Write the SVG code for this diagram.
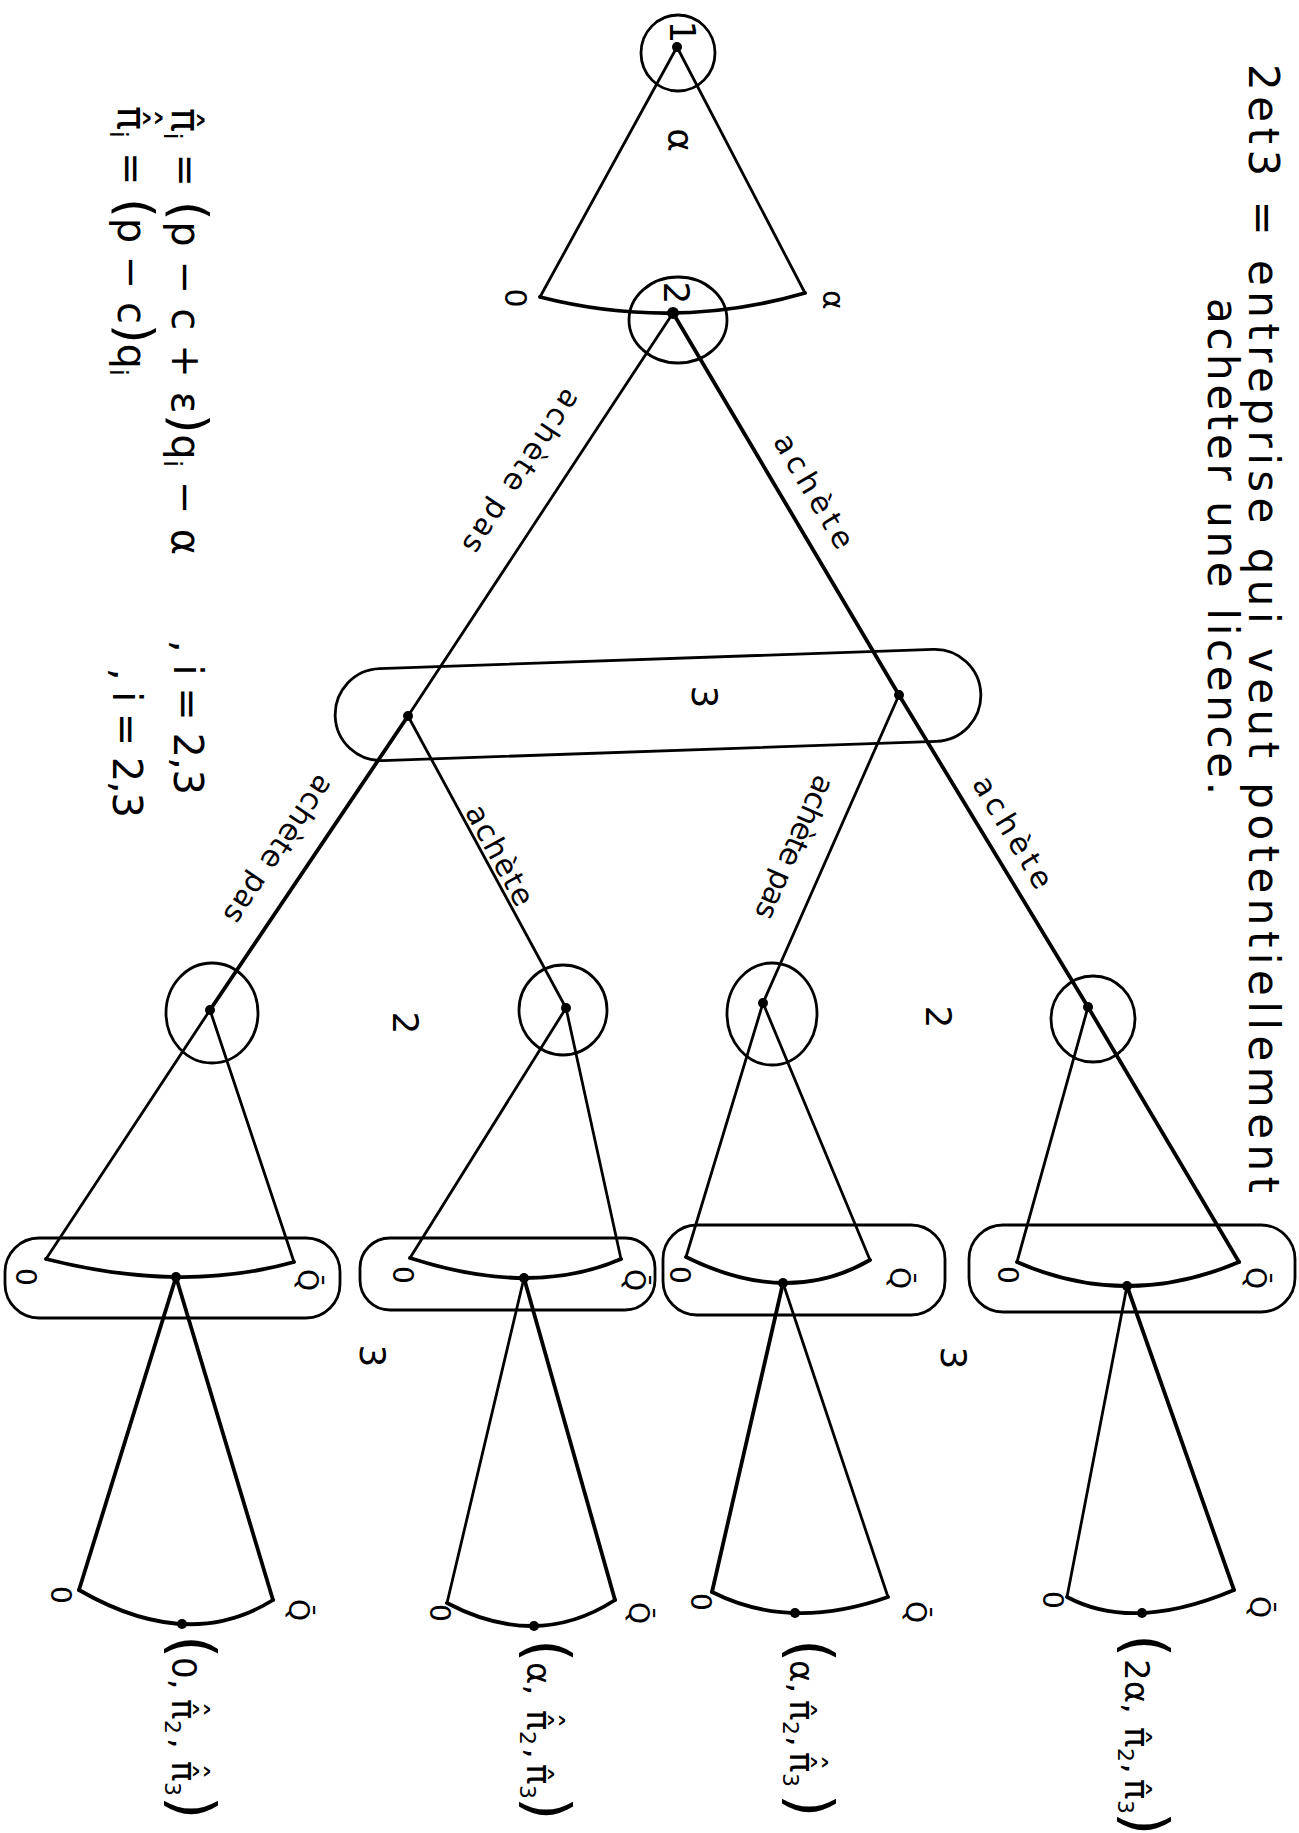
<svg xmlns="http://www.w3.org/2000/svg" width="1299" height="1833" viewBox="0 0 1299 1833">
<style>
.e{stroke:#000;stroke-width:2.8;fill:none;stroke-linecap:round;stroke-linejoin:round}
.b{stroke-width:3.8}
.o{stroke:#000;stroke-width:2.8;fill:none}
.d{fill:#000}
text{font-family:"DejaVu Sans","Liberation Sans",sans-serif;fill:#000}
.c{text-anchor:middle;dominant-baseline:central}
.lb{font-size:30px}
.s{font-size:28px}
.m{font-size:36px}
.h{font-size:42px}
.f{font-size:40px}
.p{font-size:34px}
.bp{font-size:60px}
.fp{font-size:50px}
.sb{font-size:22px}
.si{font-size:24px}
</style>
<rect width="1299" height="1833" fill="#fff"/>

<g id="connectors">
  <line class="e" x1="677" y1="47" x2="540" y2="297"/>
  <line class="e" x1="677" y1="47" x2="805" y2="293"/>
  <path class="e b" d="M540,297 Q673.5,331 805,293"/>
  <line class="e" x1="673" y1="313" x2="408" y2="716"/>
  <line class="e b" x1="673" y1="313" x2="899" y2="695"/>
  <line class="e b" x1="408" y1="716" x2="210" y2="1010"/>
  <line class="e" x1="408" y1="716" x2="566" y2="1008"/>
  <line class="e" x1="899" y1="695" x2="763" y2="1003"/>
  <line class="e b" x1="899" y1="695" x2="1088" y2="1007"/>
  <line class="e" x1="210" y1="1010" x2="46" y2="1259"/>
  <line class="e" x1="210" y1="1010" x2="294" y2="1262"/>
  <line class="e" x1="566" y1="1008" x2="410" y2="1258"/>
  <line class="e" x1="566" y1="1008" x2="621" y2="1259"/>
  <line class="e" x1="763" y1="1003" x2="686" y2="1257"/>
  <line class="e" x1="763" y1="1003" x2="870" y2="1260"/>
  <line class="e" x1="1088" y1="1007" x2="1017" y2="1262"/>
  <line class="e b" x1="1088" y1="1007" x2="1239" y2="1262"/>
  <path class="e b" d="M46,1259 Q182,1293.5 294,1262"/>
  <path class="e b" d="M410,1258 Q532.5,1297.5 621,1259"/>
  <path class="e b" d="M686,1257 Q788,1307.5 870,1260"/>
  <path class="e b" d="M1017,1262 Q1126,1310 1239,1262"/>
  <line class="e b" x1="176" y1="1277" x2="79" y2="1590"/>
  <line class="e b" x1="176" y1="1277" x2="273" y2="1600"/>
  <line class="e" x1="524" y1="1278" x2="447" y2="1603"/>
  <line class="e b" x1="524" y1="1278" x2="615" y2="1600"/>
  <line class="e b" x1="783" y1="1283" x2="712" y2="1592"/>
  <line class="e" x1="783" y1="1283" x2="888" y2="1597"/>
  <line class="e" x1="1127" y1="1286" x2="1067" y2="1597"/>
  <line class="e b" x1="1127" y1="1286" x2="1234" y2="1590"/>
  <path class="e b" d="M79,1590 Q188,1653 273,1600"/>
  <path class="e b" d="M447,1603 Q537,1650.5 615,1600"/>
  <path class="e b" d="M712,1592 Q790,1631.5 888,1597"/>
  <path class="e b" d="M1067,1597 Q1133.5,1632.5 1234,1590"/>
  <text class="c lb" transform="translate(522,472) rotate(123.3)" textLength="190" lengthAdjust="spacing">achète pas</text>
  <text class="c lb" transform="translate(814,491) rotate(59.4)" textLength="128" lengthAdjust="spacing">achète</text>
  <text class="c lb" transform="translate(279,850) rotate(124)" textLength="172" lengthAdjust="spacing">achète pas</text>
  <text class="c lb" transform="translate(500,855) rotate(61.6)" textLength="110" lengthAdjust="spacing">achète</text>
  <text class="c lb" transform="translate(795,848) rotate(113.8)" textLength="154" lengthAdjust="spacing">achète pas</text>
  <text class="c lb" transform="translate(1013,832) rotate(58.8)" textLength="126" lengthAdjust="spacing">achète</text>
</g>

<g id="n1">
  <ellipse class="o" cx="678" cy="53" rx="37" ry="38"/>
  <circle class="d" cx="677" cy="47" r="5"/>
</g>
<g id="n2">
  <ellipse class="o" cx="678" cy="320" rx="49" ry="43"/>
  <circle class="d" cx="673" cy="313" r="6"/>
</g>
<g id="info3">
  <rect class="o" x="335" y="659" width="646" height="92" rx="46" transform="rotate(-2 658 705)"/>
  <circle class="d" cx="408" cy="716" r="5"/>
  <circle class="d" cx="899" cy="695" r="5"/>
</g>
<g id="nA">
  <ellipse class="o" cx="212" cy="1013" rx="46" ry="50"/>
  <circle class="d" cx="210" cy="1010" r="5"/>
</g>
<g id="nB">
  <ellipse class="o" cx="563" cy="1010" rx="44" ry="45"/>
  <circle class="d" cx="566" cy="1008" r="5"/>
</g>
<g id="nC">
  <ellipse class="o" cx="772" cy="1014" rx="45" ry="51"/>
  <circle class="d" cx="763" cy="1003" r="5"/>
</g>
<g id="nD">
  <ellipse class="o" cx="1093" cy="1019" rx="42" ry="43"/>
  <circle class="d" cx="1088" cy="1007" r="5"/>
</g>
<g id="s5a">
  <rect class="o" x="5" y="1238" width="335" height="80" rx="34"/>
  <circle class="d" cx="176" cy="1277" r="5"/>
</g>
<g id="s5b">
  <rect class="o" x="360" y="1238" width="295" height="72" rx="30"/>
  <circle class="d" cx="524" cy="1278" r="5"/>
</g>
<g id="s5c">
  <rect class="o" x="663" y="1225" width="282" height="90" rx="34"/>
  <circle class="d" cx="783" cy="1283" r="5"/>
</g>
<g id="s5d">
  <rect class="o" x="969" y="1225" width="326" height="87" rx="34"/>
  <circle class="d" cx="1127" cy="1286" r="5"/>
</g>
<g id="t1"><circle class="d" cx="182" cy="1624" r="5"/></g>
<g id="t2"><circle class="d" cx="534" cy="1626" r="5"/></g>
<g id="t3"><circle class="d" cx="795" cy="1613" r="5"/></g>
<g id="t4"><circle class="d" cx="1142" cy="1613" r="5"/></g>

<g id="labels" transform="rotate(90)">
  <text class="h" x="64" y="-1249" textLength="1129" lengthAdjust="spacing">2et3 = entreprise qui veut potentiellement</text>
  <text class="h" x="298" y="-1208" textLength="497" lengthAdjust="spacing">acheter une licence.</text>

  <text class="f" x="108" y="-172" textLength="447" lengthAdjust="spacing">π̂<tspan class="si" dy="8">i</tspan><tspan dy="-8"> = </tspan><tspan class="fp">(</tspan>p − c + ε<tspan class="fp">)</tspan>q<tspan class="si" dy="8">i</tspan><tspan dy="-8">  − α</tspan></text>
  <text class="f" x="640" y="-174" textLength="155" lengthAdjust="spacing">, i = 2,3</text>
  <text class="f" y="-118"><tspan x="106">π̂</tspan><tspan x="108" y="-130">ˆ</tspan><tspan class="si" x="131" y="-110">i</tspan><tspan x="152" y="-118">= </tspan><tspan class="fp">(</tspan><tspan>p − c</tspan><tspan class="fp">)</tspan><tspan>q</tspan><tspan class="si" y="-110">i</tspan></text>
  <text class="f" x="668" y="-113" textLength="150" lengthAdjust="spacing">, i = 2,3</text>

  <text class="c m" x="32" y="-682">1</text>
  <text class="c m" x="293" y="-676">2</text>
  <text class="c m" x="140" y="-680">α</text>
  <text class="c lb" x="298" y="-515">0</text>
  <text class="c lb" x="300" y="-833">α</text>
  <text class="c m" x="697" y="-704">3</text>
  <text class="c m" x="1023" y="-405">2</text>
  <text class="c m" x="1017" y="-938">2</text>
  <text class="c m" x="1356" y="-372">3</text>
  <text class="c m" x="1358" y="-953">3</text>

  <text class="c s" x="1277" y="-25">0</text>
  <text class="c s" x="1280" y="-307">Q̄</text>
  <text class="c s" x="1275" y="-402">0</text>
  <text class="c s" x="1280" y="-634">Q̄</text>
  <text class="c s" x="1275" y="-679">0</text>
  <text class="c s" x="1278" y="-899">Q̄</text>
  <text class="c s" x="1275" y="-1007">0</text>
  <text class="c s" x="1278" y="-1255">Q̄</text>

  <text class="c s" x="1595" y="-60">0</text>
  <text class="c s" x="1610" y="-298">Q̄</text>
  <text class="c s" x="1613" y="-439">0</text>
  <text class="c s" x="1613" y="-638">Q̄</text>
  <text class="c s" x="1602" y="-700">0</text>
  <text class="c s" x="1612" y="-915">Q̄</text>
  <text class="c s" x="1600" y="-1052">0</text>
  <text class="c s" x="1607" y="-1259">Q̄</text>

  <text class="p" y="-172"><tspan class="bp" x="1635">(</tspan><tspan x="1657">0,</tspan><tspan x="1699">π̂</tspan><tspan x="1701" y="-183">ˆ</tspan><tspan class="sb" x="1720" y="-165">2</tspan><tspan x="1738" y="-172">,</tspan><tspan x="1761">π̂</tspan><tspan x="1763" y="-183">ˆ</tspan><tspan class="sb" x="1782" y="-165">3</tspan><tspan class="bp" x="1796" y="-172">)</tspan></text>
  <text class="p" y="-527"><tspan class="bp" x="1639">(</tspan><tspan x="1662">α,</tspan><tspan x="1710">π̂</tspan><tspan x="1712" y="-538">ˆ</tspan><tspan class="sb" x="1731" y="-520">2</tspan><tspan x="1748" y="-527">,</tspan><tspan x="1764">π̂</tspan><tspan class="sb" x="1785" y="-520">3</tspan><tspan class="bp" x="1797" y="-527">)</tspan></text>
  <text class="p" y="-790"><tspan class="bp" x="1639">(</tspan><tspan x="1660">α,</tspan><tspan x="1700">π̂</tspan><tspan class="sb" x="1721" y="-783">2</tspan><tspan x="1736" y="-790">,</tspan><tspan x="1752">π̂</tspan><tspan x="1754" y="-801">ˆ</tspan><tspan class="sb" x="1773" y="-783">3</tspan><tspan class="bp" x="1794" y="-790">)</tspan></text>
  <text class="p" y="-1125"><tspan class="bp" x="1634">(</tspan><tspan x="1659">2α,</tspan><tspan x="1727">π̂</tspan><tspan class="sb" x="1748" y="-1118">2</tspan><tspan x="1763" y="-1125">,</tspan><tspan x="1779">π̂</tspan><tspan class="sb" x="1800" y="-1118">3</tspan><tspan class="bp" x="1812" y="-1125">)</tspan></text>
</g>
</svg>
